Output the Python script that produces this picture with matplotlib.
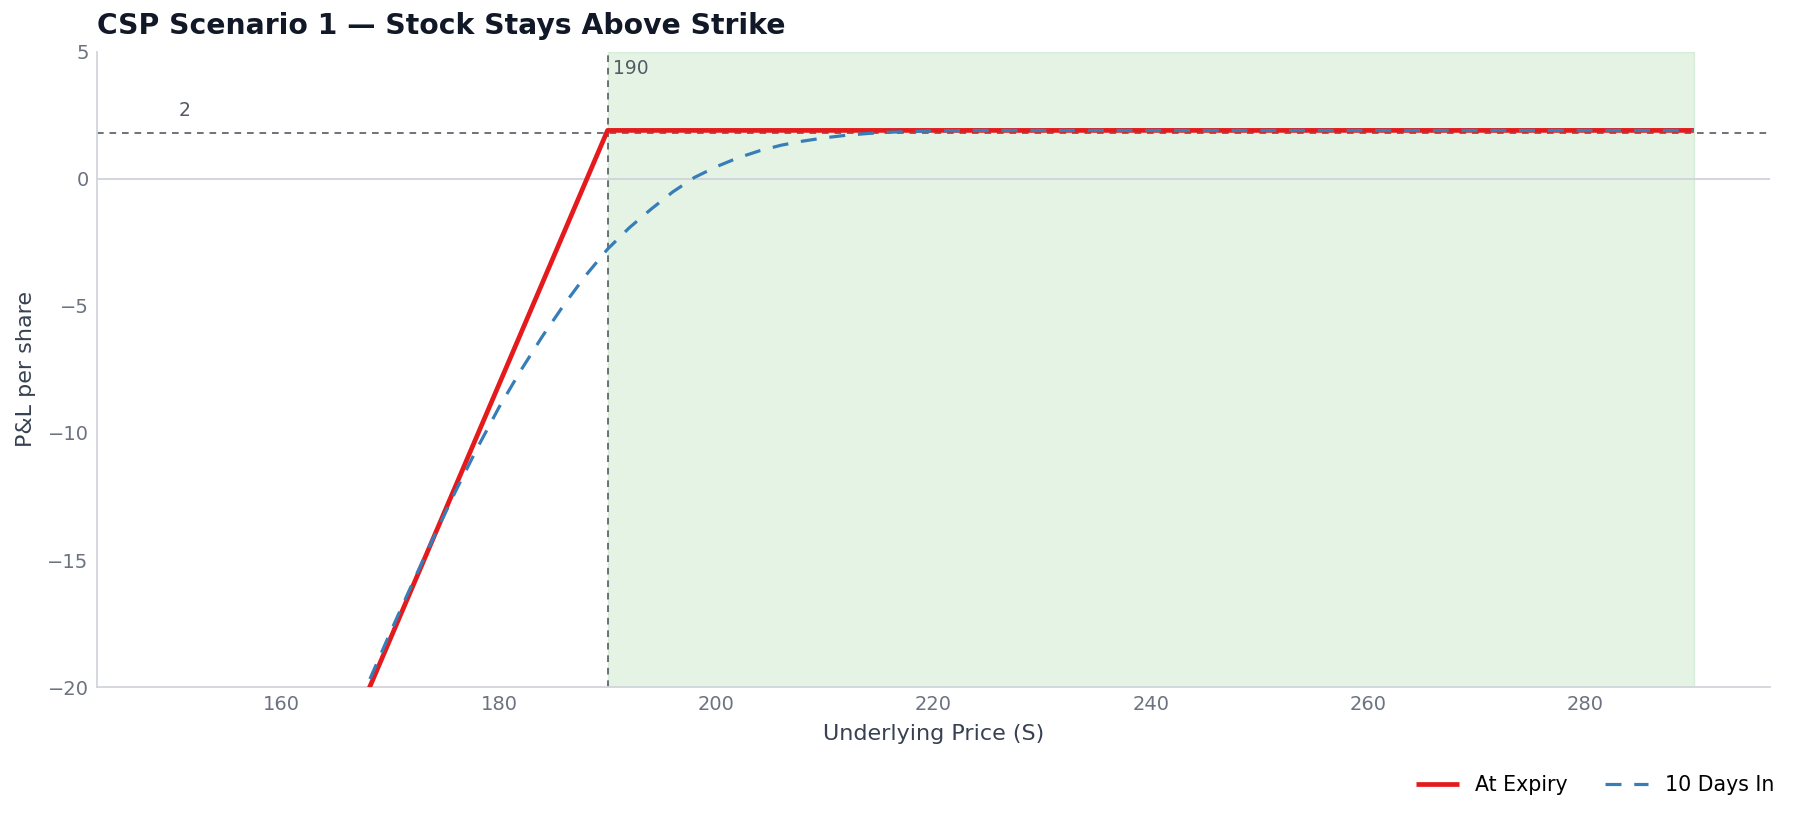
import matplotlib
matplotlib.use("Agg")
import matplotlib.pyplot as plt

# ---- data ----
strike = 190
premium_line = 1.8          # dashed reference line (label rounds to 2)
expiry_S = [150, 190, 290]
expiry_pnl = [-38.1, 1.9, 1.9]

days10_S = [166, 168, 170, 172, 174, 176, 178, 180, 182, 184, 186, 188, 190,
            192, 194, 196, 198, 200, 202, 204, 206, 208, 210, 212, 214, 216,
            218, 220, 224, 230, 290]
days10_pnl = [-21.75, -19.8, -17.85, -15.95, -14.1, -12.3, -10.6, -9.0, -7.55,
              -6.2, -4.95, -3.8, -2.77, -1.93, -1.2, -0.52, 0.05, 0.47, 0.82,
              1.1, 1.32, 1.48, 1.61, 1.71, 1.78, 1.83, 1.86, 1.88, 1.9, 1.9, 1.9]

profit_zone = [190, 290]
xticks = [160, 180, 200, 220, 240, 260, 280]
yticks = [-20, -15, -10, -5, 0, 5]

title = "CSP Scenario 1 \u2014 Stock Stays Above Strike"
xlabel = "Underlying Price (S)"
ylabel = "P&L per share"

# ---- figure ----
fig = plt.figure(figsize=(17.96, 8.19), dpi=100)
ax = fig.add_axes([0.054, 0.161, 0.9315, 0.776])

ax.axvspan(profit_zone[0], profit_zone[1], color="#4daf4a", alpha=0.15, zorder=0)
ax.axhline(0, color="#cfd3da", lw=1.3, zorder=1)
ax.axhline(premium_line, color="#555b63", lw=1.2, ls=(0, (4, 3.5)), zorder=2)
ax.axvline(strike, color="#555b63", lw=1.2, ls=(0, (4, 3.5)), zorder=2)

ax.plot(expiry_S, expiry_pnl, color="#e41a1c", lw=3.4, label="At Expiry", zorder=3,
        solid_capstyle="butt")
ax.plot(days10_S, days10_pnl, color="#377eb8", lw=2.3, ls=(0, (5, 4)),
        label="10 Days In", zorder=4)

ax.set_xlim(143, 297)
ax.set_ylim(-20, 5)
ax.set_xticks(xticks)
ax.set_yticks(yticks)

ax.annotate(f"{premium_line:.0f}", xy=(150, premium_line), xytext=(4, 9),
            textcoords="offset points", ha="left", va="bottom",
            fontsize=13.5, color="#555b63")
ax.annotate(f"{strike}", xy=(strike, 5), xytext=(4, -5),
            textcoords="offset points", ha="left", va="top",
            fontsize=13.5, color="#555b63")

for s in ("top", "right"):
    ax.spines[s].set_visible(False)
for s in ("left", "bottom"):
    ax.spines[s].set_color("#d1d5db")
    ax.spines[s].set_linewidth(1.3)
ax.tick_params(length=0, labelsize=14, labelcolor="#6b7280", pad=6)

ax.set_xlabel(xlabel, fontsize=16, color="#374151", labelpad=7)
ax.set_ylabel(ylabel, fontsize=16, color="#374151", labelpad=8)

fig.text(0.054, 0.968, title, fontsize=20.3, fontweight="bold", color="#111827",
         ha="left", va="center")

fig.legend(loc="lower right", bbox_to_anchor=(0.998, 0.007), ncol=2, frameon=False,
           fontsize=14.8, handlelength=2.1, handletextpad=0.8, columnspacing=1.8)

fig.savefig("out.png", dpi=100, facecolor="white")
